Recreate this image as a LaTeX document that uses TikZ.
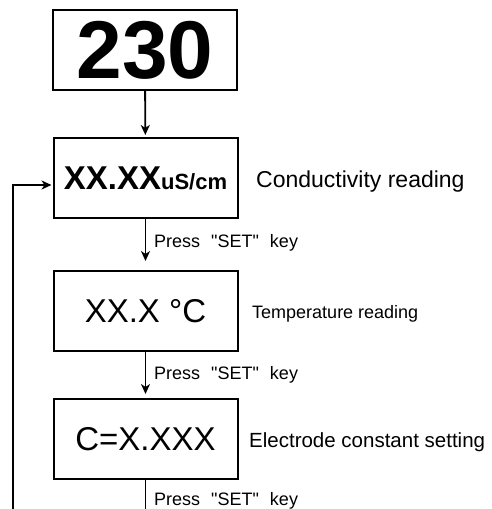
\documentclass[tikz,border=0pt]{standalone}
\usepackage{fontspec}
\setmainfont{Liberation Sans}
\usetikzlibrary{arrows.meta,positioning,calc}
\tikzset{
  dbox/.style={draw, line width=2pt, minimum width=184pt, minimum height=80pt, inner sep=0pt},
  lbl/.style={anchor=base west, inner sep=0pt},
  darr/.style={-{Stealth[length=10pt, width=9pt, inset=3pt]}, line width=1.9pt},
  dln/.style={line width=1.9pt},
}
\newcommand{\fsz}[1]{\fontsize{#1}{#1}\selectfont}
\newcommand{\presskey}{\fsz{18}Press\hspace{11pt}\textquotedbl SET\textquotedbl\hspace{11pt}key}

\begin{document}
\begin{tikzpicture}[x=1pt, y=-1pt]
\useasboundingbox (0,0) rectangle (492,509);
\coordinate (btm) at (0,509);
\coordinate (loopb) at (13,509);
% display boxes
\node[dbox] (disp230) at (145,50) {\fsz{82}\bfseries 230};
\node[dbox] (cond) at (145.5,178) {{\fsz{33}\bfseries XX.XX}{\fsz{22}\bfseries uS/cm}};
\node[dbox] (temp) at (145.5,311) {\fsz{33}XX.X °C};
\node[dbox] (elec) at (145.5,439) {\fsz{33}C=X.XXX};
% side labels
\node[lbl, font=\fsz{23}] (condlbl) at (256,187) {Conductivity reading};
\node[lbl, font=\fsz{18}] (templbl) at (252,318) {Temperature reading};
\node[lbl, font=\fsz{20.5}] (eleclbl) at (249,447) {Electrode constant setting};
\node[lbl] (press1) at (154,247) {\presskey};
\node[lbl] (press2) at (154,379) {\presskey};
\node[lbl] (press3) at (154,505) {\presskey};
% connectors
\draw[darr, shorten >=2pt] (disp230) -- (cond);
\draw[darr, shorten >=9pt] (cond) -- (temp);
\draw[darr, shorten >=4pt] (temp) -- (elec);
\draw[dln] (elec) -- (elec.south |- btm);
\draw[darr, shorten >=1pt] (loopb) |- ([yshift=-7pt]cond.west);
\end{tikzpicture}
\end{document}
